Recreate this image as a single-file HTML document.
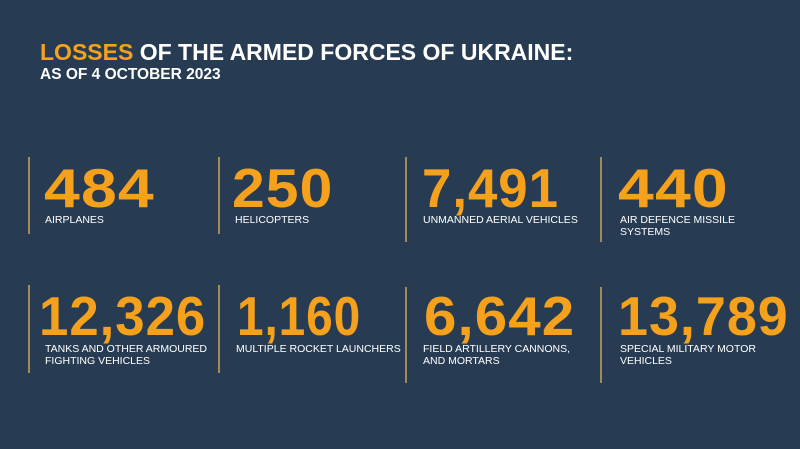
<!DOCTYPE html>
<html><head><style>
body{margin:0;width:800px;height:449px;background:#273c53;font-family:"Liberation Sans",sans-serif;position:relative;overflow:hidden;color:#fff}
.t{position:absolute;left:40px;top:39px;font-weight:bold;font-size:23px;white-space:nowrap;letter-spacing:0px}
.t span{color:#f5a11c}
.s{position:absolute;left:40px;top:66px;font-weight:bold;font-size:15.5px;white-space:nowrap}
.v{position:absolute;width:1.5px;background:#a08a5a}
.n{position:absolute;font-weight:bold;color:#f5a11c;font-size:55px;line-height:55px;letter-spacing:1px;white-space:nowrap;transform-origin:left top}
.l{position:absolute;font-size:10.5px;line-height:12px;white-space:nowrap}
</style></head><body>
<div class="t"><span>LOSSES</span> OF THE ARMED FORCES OF UKRAINE:</div>
<div class="s">AS OF 4 OCTOBER 2023</div>

<div class="v" style="left:28px;top:157px;height:77px"></div>
<div class="v" style="left:218px;top:157px;height:77px"></div>
<div class="v" style="left:405px;top:157px;height:85px"></div>
<div class="v" style="left:600px;top:157px;height:85px"></div>
<div class="v" style="left:28px;top:285px;height:88px"></div>
<div class="v" style="left:218px;top:285px;height:88px"></div>
<div class="v" style="left:405px;top:287px;height:96px"></div>
<div class="v" style="left:600px;top:287px;height:96px"></div>

<div class="n" style="left:44px;top:161px;transform:scaleX(1.17)">484</div>
<div class="n" style="left:232px;top:161px;transform:scaleX(1.07)">250</div>
<div class="n" style="left:422px;top:161px;transform:scaleX(0.96)">7,491</div>
<div class="n" style="left:618px;top:161px;transform:scaleX(1.17)">440</div>
<div class="l" style="left:45px;top:214px">AIRPLANES</div>
<div class="l" style="left:235px;top:214px">HELICOPTERS</div>
<div class="l" style="left:423px;top:214px">UNMANNED AERIAL VEHICLES</div>
<div class="l" style="left:620px;top:214px">AIR DEFENCE MISSILE<br>SYSTEMS</div>

<div class="n" style="left:39px;top:289px;transform:scaleX(0.96)">12,326</div>
<div class="n" style="left:237px;top:289px;transform:scaleX(0.87)">1,160</div>
<div class="n" style="left:424px;top:289px;transform:scaleX(1.06)">6,642</div>
<div class="n" style="left:618px;top:289px;transform:scaleX(0.98)">13,789</div>
<div class="l" style="left:45px;top:343px">TANKS AND OTHER ARMOURED<br>FIGHTING VEHICLES</div>
<div class="l" style="left:236px;top:343px">MULTIPLE ROCKET LAUNCHERS</div>
<div class="l" style="left:423px;top:343px">FIELD ARTILLERY CANNONS,<br>AND MORTARS</div>
<div class="l" style="left:620px;top:343px">SPECIAL MILITARY MOTOR<br>VEHICLES</div>
</body></html>
